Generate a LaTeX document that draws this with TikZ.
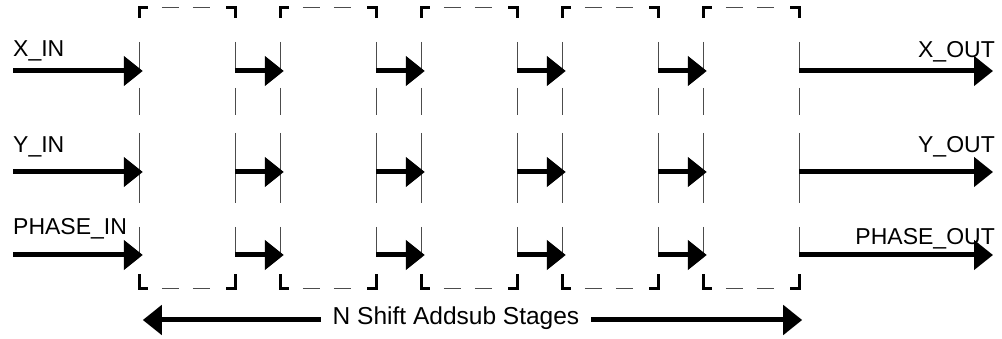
\documentclass[tikz,border=0pt]{standalone}
\usepackage{fontspec}
\setmainfont{Liberation Sans}
\usetikzlibrary{positioning}
\usetikzlibrary{arrows.meta}
\tikzset{
    stagebox/.style = {rectangle, minimum width=95pt, minimum height=280pt, inner sep=0pt},
    mylabel/.style = {inner sep=0pt, font=\fontsize{23}{26}\selectfont, text=black},
    edgesig/.style = {-{Triangle[length=19pt,width=29pt]}, line width=5pt, black},
    edgeh/.style = {line width=1.3pt, black!70, dash pattern=on 17pt off 14pt}, % top and bottom
    edgev/.style = {line width=1.3pt, black!70, dash pattern=on 30pt off 16pt on 27pt off 18pt on 70pt off 24pt}, % sides
    edgec/.style = {line width=3pt, black, line join=miter}, % corners
}

\begin{document}
\begin{tikzpicture}[x=1pt,y=1pt]
  \useasboundingbox (0,0) rectangle (1002,339);

  % the five stages
  \foreach \i in {1,...,5} {
    \node[stagebox] (s\i) at ({187.5+141*(\i-1)},191) {};
    \draw[edgeh] ([xshift=22pt]s\i.north west) -- ([xshift=-25pt]s\i.north east);
    \draw[edgeh] ([xshift=22pt]s\i.south west) -- ([xshift=-25pt]s\i.south east);
    \draw[edgev] ([yshift=-34pt]s\i.north west) -- ([yshift=31pt]s\i.south west);
    \draw[edgev] ([yshift=-34pt]s\i.north east) -- ([yshift=31pt]s\i.south east);
    \draw[edgec] ([yshift=-10pt]s\i.north west) -- (s\i.north west) -- ([xshift=8pt]s\i.north west);
    \draw[edgec] ([yshift=-10pt]s\i.north east) -- (s\i.north east) -- ([xshift=-9pt]s\i.north east);
    \draw[edgec] ([yshift=14pt]s\i.south west) -- (s\i.south west) -- ([xshift=8pt]s\i.south west);
    \draw[edgec] ([yshift=14pt]s\i.south east) -- (s\i.south east) -- ([xshift=-9pt]s\i.south east);
  }

  % inputs and outputs
  \coordinate (xin) at (13,268);
  \coordinate (yin) at (13,167);
  \coordinate (pin) at (13,84);
  \coordinate (xout) at (993,268);
  \coordinate (yout) at (993,167);
  \coordinate (pout) at (993,84);

  \node[mylabel, anchor=base west] (xinlbl) at (13,282) {X\_IN};
  \node[mylabel, anchor=base west] (yinlbl) at (13,186) {Y\_IN};
  \node[mylabel, anchor=base west] (pinlbl) at (13,104) {PHASE\_IN};
  \node[mylabel, anchor=base east] (xoutlbl) at (995,281) {X\_OUT};
  \node[mylabel, anchor=base east] (youtlbl) at (995,186) {Y\_OUT};
  \node[mylabel, anchor=base east] (poutlbl) at (995,94) {PHASE\_OUT};

  \foreach \r in {xin,yin,pin}
    \draw[edgesig, shorten >=-3pt] (\r) -- (\r -| s1.west);
  \foreach \i/\j in {1/2,2/3,3/4,4/5}
    \foreach \r in {xin,yin,pin}
      \draw[edgesig, shorten >=-3pt] (\r -| s\i.east) -- (\r -| s\j.west);
  \draw[edgesig] (xin -| s5.east) -- (xout);
  \draw[edgesig] (yin -| s5.east) -- (yout);
  \draw[edgesig] (pin -| s5.east) -- (pout);

  % stage count
  \coordinate (nmid) at (456,19);
  \node[mylabel, font=\fontsize{24.5}{28}\selectfont, anchor=base, inner xsep=12pt] (nstages) at (456,14) {N Shift Addsub Stages};
  \draw[edgesig] (nstages.west |- nmid) -- ([xshift=3pt]s1.west |- nmid);
  \draw[edgesig] (nstages.east |- nmid) -- ([xshift=3pt]s5.east |- nmid);
\end{tikzpicture}
\end{document}
